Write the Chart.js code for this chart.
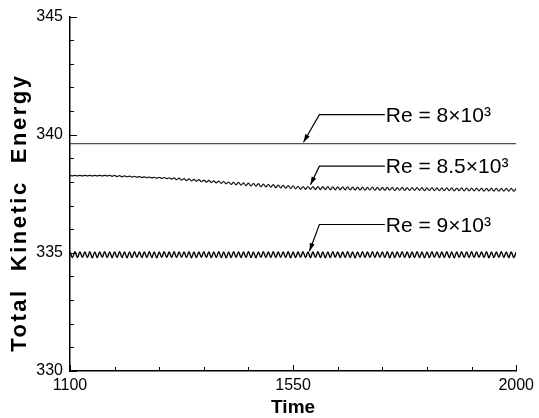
<!DOCTYPE html>
<html>
<head>
<meta charset="utf-8">
<title>Total Kinetic Energy</title>
<script src="https://cdn.jsdelivr.net/npm/chart.js@4"></script>
<style>
  html, body { margin: 0; padding: 0; background: #fff; }
</style>
</head>
<body>
<canvas id="energyChart" width="539" height="418"></canvas>
<script>
// sample times (same sampling for the oscillating runs)
const times = [
  1100,1105,1110,1115,1120,1125,1130,1135,1140,1145,1150,1155,1160,1165,1170,1175,1180,1185,1190,1195,
  1200,1205,1210,1215,1220,1225,1230,1235,1240,1245,1250,1255,1260,1265,1270,1275,1280,1285,1290,1295,
  1300,1305,1310,1315,1320,1325,1330,1335,1340,1345,1350,1355,1360,1365,1370,1375,1380,1385,1390,1395,
  1400,1405,1410,1415,1420,1425,1430,1435,1440,1445,1450,1455,1460,1465,1470,1475,1480,1485,1490,1495,
  1500,1505,1510,1515,1520,1525,1530,1535,1540,1545,1550,1555,1560,1565,1570,1575,1580,1585,1590,1595,
  1600,1605,1610,1615,1620,1625,1630,1635,1640,1645,1650,1655,1660,1665,1670,1675,1680,1685,1690,1695,
  1700,1705,1710,1715,1720,1725,1730,1735,1740,1745,1750,1755,1760,1765,1770,1775,1780,1785,1790,1795,
  1800,1805,1810,1815,1820,1825,1830,1835,1840,1845,1850,1855,1860,1865,1870,1875,1880,1885,1890,1895,
  1900,1905,1910,1915,1920,1925,1930,1935,1940,1945,1950,1955,1960,1965,1970,1975,1980,1985,1990,1995,
  2000
];

// Re = 8x10^3 : steady
const times8 = [1100, 2000];
const energy8 = [339.62, 339.62];

// Re = 8.5x10^3 : slow decay, oscillation grows
const energy85 = [
  338.28,338.26,338.28,338.26,338.28,338.26,338.28,338.26,338.28,338.26,338.28,338.26,338.28,338.26,338.28,338.26,338.28,
  338.24,338.28,338.23,338.27,338.22,338.26,338.22,338.25,338.21,338.24,338.20,338.23,338.19,338.22,338.18,338.21,338.17,338.20,338.16,338.20,338.15,338.19,338.14,338.18,
  338.12,338.17,338.10,338.16,338.08,338.14,338.06,338.13,338.05,338.11,338.03,338.10,338.01,338.08,337.99,338.07,337.98,338.05,337.96,338.04,337.94,338.02,337.92,338.00,337.90,337.99,337.88,337.98,337.87,337.96,
  337.85,337.95,337.83,337.94,337.82,337.93,337.80,337.91,337.79,337.90,337.78,337.89,337.76,337.87,337.75,337.86,337.74,337.85,337.72,337.84,337.71,337.82,
  337.69,337.81,337.69,337.81,337.69,337.80,337.68,337.80,337.68,337.80,337.68,
  337.80,337.67,337.79,337.67,337.79,337.67,337.79,337.67,337.79,337.66,337.78,
  337.66,337.78,337.66,337.78,337.65,337.77,337.66,337.78,337.65,337.77,337.65,337.77,337.65,337.77,337.65,337.77,337.64,337.76,337.65,337.77,337.64,337.76,
  337.64,337.76,337.64,337.76,337.64,337.76,337.63,337.75,337.64,337.76,337.63,337.75,337.63,337.75,337.63,337.75,337.63,337.75,337.62,337.74,337.63,337.75,
  337.62,337.74,337.62,337.74,337.62,337.74,337.62,337.74,337.61,337.73,337.62,337.74,337.61,337.73,337.61,337.73,337.61,337.73,337.61,337.73,337.61,337.73
];

// Re = 9x10^3 : steady oscillation
const energy9 = [
  335.04,334.80,335.05,334.80,335.04,334.81,335.04,334.80,335.05,334.79,335.04,334.80,335.04,334.81,335.05,334.80,335.04,334.80,335.04,334.80,
  335.05,334.80,335.04,334.79,335.04,334.80,335.05,334.81,335.04,334.80,335.04,334.80,335.05,334.80,335.04,334.79,335.04,334.81,335.05,334.80,
  335.04,334.80,335.05,334.80,335.04,334.81,335.04,334.80,335.05,334.79,335.04,334.80,335.04,334.81,335.05,334.80,335.04,334.80,335.04,334.80,
  335.05,334.80,335.04,334.79,335.04,334.80,335.05,334.81,335.04,334.80,335.04,334.80,335.05,334.80,335.04,334.79,335.04,334.81,335.05,334.80,
  335.04,334.80,335.05,334.80,335.04,334.81,335.04,334.80,335.05,334.79,335.04,334.80,335.04,334.81,335.05,334.80,335.04,334.80,335.04,334.80,
  335.05,334.80,335.04,334.79,335.04,334.80,335.05,334.81,335.04,334.80,335.04,334.80,335.05,334.80,335.04,334.79,335.04,334.81,335.05,334.80,
  335.04,334.80,335.05,334.80,335.04,334.81,335.04,334.80,335.05,334.79,335.04,334.80,335.04,334.81,335.05,334.80,335.04,334.80,335.04,334.80,
  335.05,334.80,335.04,334.79,335.04,334.80,335.05,334.81,335.04,334.80,335.04,334.80,335.05,334.80,335.04,334.79,335.04,334.81,335.05,334.80,
  335.04,334.80,335.05,334.80,335.04,334.81,335.04,334.80,335.05,334.79,335.04,334.80,335.04,334.81,335.05,334.80,335.04,334.80,335.04,334.80,
  335.04
];

// tick labels
const xLabels = [1100, 1550, 2000];
const yLabels = [330, 335, 340, 345];
const yTitle = 'Total  Kinetic  Energy';

// labels with leader arrows (data coords)
const notes = [
  { text: 'Re = 8\u00d710\u00b3',   tip: [1571, 339.68], elbow: [1603, 340.85], textX: 1737 },
  { text: 'Re = 8.5\u00d710\u00b3', tip: [1585, 337.88], elbow: [1603, 338.67], textX: 1737 },
  { text: 'Re = 9\u00d710\u00b3',   tip: [1583, 335.07], elbow: [1603, 336.20], textX: 1737 }
];

const FONT = '"Liberation Sans", Arial, Helvetica, sans-serif';

function toPoints(xs, ys) {
  return xs.map((x, i) => ({ x: x, y: ys[i] }));
}

// inward ticks, y title, leader lines and labels
const extras = {
  id: 'extras',
  afterDraw(chart) {
    const { ctx, chartArea: a, scales: { x, y } } = chart;
    ctx.save();
    ctx.strokeStyle = '#000';
    ctx.lineWidth = 1;
    ctx.beginPath();
    y.ticks.forEach(t => {
      const py = Math.round(y.getPixelForValue(t.value)) + 0.5;
      const len = t.value % 5 === 0 ? 7 : 4;
      ctx.moveTo(a.left, py);
      ctx.lineTo(a.left + len, py);
    });
    x.ticks.forEach(t => {
      const px = Math.round(x.getPixelForValue(t.value)) + 0.5;
      const len = xLabels.includes(t.value) ? 6 : 4;
      ctx.moveTo(px, a.bottom);
      ctx.lineTo(px, a.bottom - len);
    });
    ctx.stroke();

    // rotated y title, a bit below the axis middle, letter-spaced
    ctx.save();
    ctx.translate(20, y.getPixelForValue(336.7));
    ctx.rotate(-Math.PI / 2);
    ctx.font = 'bold 22px ' + FONT;
    ctx.letterSpacing = '2.5px';
    ctx.fillStyle = '#000';
    ctx.textAlign = 'center';
    ctx.textBaseline = 'middle';
    ctx.fillText(yTitle, 0, 0);
    ctx.restore();

    notes.forEach(n => {
      const tx = x.getPixelForValue(n.tip[0]), ty = y.getPixelForValue(n.tip[1]);
      const ex = x.getPixelForValue(n.elbow[0]), ey = y.getPixelForValue(n.elbow[1]);
      const sx = x.getPixelForValue(n.textX);
      ctx.lineWidth = 1.2;
      ctx.beginPath();
      ctx.moveTo(sx - 1, ey);
      ctx.lineTo(ex, ey);
      ctx.lineTo(tx, ty);
      ctx.stroke();
      // arrow head
      const ang = Math.atan2(ty - ey, tx - ex);
      ctx.beginPath();
      ctx.moveTo(tx, ty);
      ctx.lineTo(tx - 8 * Math.cos(ang) + 2.5 * Math.sin(ang), ty - 8 * Math.sin(ang) - 2.5 * Math.cos(ang));
      ctx.lineTo(tx - 8 * Math.cos(ang) - 2.5 * Math.sin(ang), ty - 8 * Math.sin(ang) + 2.5 * Math.cos(ang));
      ctx.closePath();
      ctx.fillStyle = '#000';
      ctx.fill();
      ctx.font = '21px ' + FONT;
      ctx.textBaseline = 'alphabetic';
      ctx.textAlign = 'left';
      ctx.fillText(n.text, sx, ey + 7);
    });
    ctx.restore();
  }
};

new Chart(document.getElementById('energyChart'), {
  type: 'line',
  data: {
    datasets: [
      { label: 'Re = 8x10^3', data: toPoints(times8, energy8), borderColor: '#222', borderWidth: 1 },
      { label: 'Re = 8.5x10^3', data: toPoints(times, energy85), borderColor: '#111', borderWidth: 1.2, tension: 0.35 },
      { label: 'Re = 9x10^3', data: toPoints(times, energy9), borderColor: '#000', borderWidth: 1.4, tension: 0.35 }
    ]
  },
  options: {
    responsive: false,
    animation: false,
    devicePixelRatio: 1,
    elements: { point: { radius: 0 } },
    layout: { padding: { top: 13, right: 20, left: 0, bottom: 0 } },
    plugins: { legend: { display: false }, tooltip: { enabled: false } },
    scales: {
      x: {
        type: 'linear',
        min: 1100,
        max: 2000,
        afterFit: s => { s.height = 47; },
        grid: { display: true, drawOnChartArea: false, drawTicks: false },
        border: { display: true, color: '#000', width: 1.5 },
        ticks: {
          stepSize: 90,
          autoSkip: false,
          maxRotation: 0,
          padding: 5,
          color: '#000',
          font: { family: FONT, size: 16 },
          callback: v => xLabels.includes(v) ? String(v) : ''
        },
        title: {
          display: true,
          text: 'Time',
          color: '#000',
          font: { family: FONT, size: 19, weight: 'bold', lineHeight: 1 },
          padding: { top: 0, bottom: 1 }
        }
      },
      y: {
        min: 330,
        max: 345,
        afterFit: s => { s.width = 70; },
        grid: { display: true, drawOnChartArea: false, drawTicks: false },
        border: { display: true, color: '#000', width: 1.5 },
        ticks: {
          stepSize: 1,
          autoSkip: false,
          padding: 7,
          color: '#000',
          font: { family: FONT, size: 16 },
          callback: v => yLabels.includes(v) ? String(v) : ''
        },
        title: { display: false }
      }
    }
  },
  plugins: [extras]
});
</script>
</body>
</html>
